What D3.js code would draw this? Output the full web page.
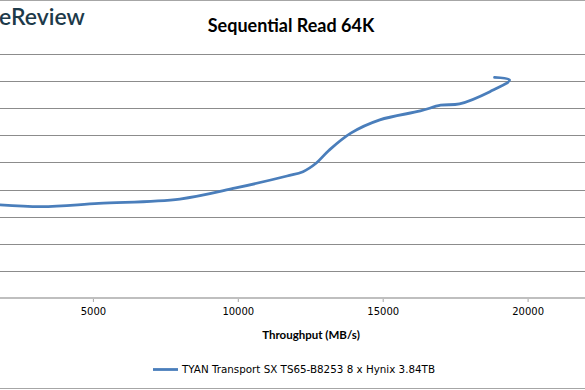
<!DOCTYPE html>
<html>
<head>
<meta charset="utf-8">
<script src="https://cdn.jsdelivr.net/npm/d3@7"></script>
<style>
  html, body { margin: 0; padding: 0; background: #fff; }
  svg { display: block; }
</style>
</head>
<body>
<svg id="chart" width="585" height="390"></svg>
<script>
// ---- data ----
const chartTitle = "Sequential Read 64K";
const xAxisTitle = "Throughput (MB/s)";
const seriesName = "TYAN Transport SX TS65-B8253 8 x Hynix 3.84TB";
const throughput = [800, 3200, 5200, 8000, 9930, 11700, 12250, 12700, 13150, 13900, 14900, 16300, 17000, 17650, 18700, 19380, 18860];
const latency    = [0.352, 0.337, 0.349, 0.365, 0.406, 0.450, 0.466, 0.497, 0.545, 0.608, 0.657, 0.690, 0.711, 0.716, 0.761, 0.804, 0.814];
const xTicks = [5000, 10000, 15000, 20000];
const yTicks = [0.1, 0.2, 0.3, 0.4, 0.5, 0.6, 0.7, 0.8, 0.9];

const W = 585, H = 390;
const svg = d3.select("#chart");

const x = d3.scaleLinear().domain([0, 25000]).range([-52, 672.5]);
const y = d3.scaleLinear().domain([0, 0.9]).range([298, 54]);

// outer border lines (top / bottom of the cropped picture)
svg.append("line").attr("x1", 0).attr("x2", W).attr("y1", 0.5).attr("y2", 0.5)
  .attr("stroke", "#a6a6a6").attr("stroke-width", 1);
svg.append("line").attr("x1", 0).attr("x2", W).attr("y1", 388.5).attr("y2", 388.5)
  .attr("stroke", "#a6a6a6").attr("stroke-width", 1);

// logo text (cropped)
svg.append("text").attr("x", -1).attr("y", 25)
  .attr("font-family", "Lato, 'Open Sans', sans-serif").attr("font-size", 23)
  .attr("font-weight", 600)
  .attr("fill", "#1d3a4a").text("eReview");

// title
svg.append("text").attr("x", 291).attr("y", 32).attr("text-anchor", "middle")
  .attr("font-family", "Lato, 'Open Sans', sans-serif").attr("font-weight", "bold")
  .attr("font-size", 18).attr("fill", "#000").text(chartTitle);

// gridlines
svg.append("g").selectAll("line").data(yTicks).join("line")
  .attr("x1", 0).attr("x2", W)
  .attr("y1", d => Math.round(y(d)) + 0.5).attr("y2", d => Math.round(y(d)) + 0.5)
  .attr("stroke", "#8c8c8c").attr("stroke-width", 1);

// x axis
const xAxis = d3.axisBottom(x).tickValues(xTicks).tickSize(4).tickPadding(6)
  .tickFormat(d3.format("d"));
const gx = svg.append("g").attr("transform", `translate(0,${y(0)})`).call(xAxis);
gx.select(".domain").remove();
gx.append("line").attr("x1", 0).attr("x2", W).attr("y1", 0).attr("y2", 0)
  .attr("stroke", "#bfbfbf").attr("stroke-width", 2);
gx.selectAll(".tick line").attr("stroke", "#a6a6a6");
gx.selectAll(".tick text").attr("font-family", "'DejaVu Sans', Verdana, sans-serif")
  .attr("font-size", 10).attr("fill", "#000");

// x axis title
svg.append("text").attr("x", 311).attr("y", 339).attr("text-anchor", "middle")
  .attr("font-family", "Lato, 'Open Sans', sans-serif").attr("font-weight", "bold")
  .attr("font-size", 11.5).attr("fill", "#000").text(xAxisTitle);

// series line
const pts = throughput.map((t, i) => [t, latency[i]]);
const line = d3.line().x(d => x(d[0])).y(d => y(d[1])).curve(d3.curveCatmullRom.alpha(0.5));
svg.append("path").datum(pts).attr("d", line)
  .attr("fill", "none").attr("stroke", "#4a7ebb").attr("stroke-width", 2.8)
  .attr("stroke-linecap", "round").attr("stroke-linejoin", "round");

// legend
svg.append("line").attr("x1", 153).attr("x2", 178).attr("y1", 369.5).attr("y2", 369.5)
  .attr("stroke", "#4a7ebb").attr("stroke-width", 2.8);
svg.append("text").attr("x", 182).attr("y", 373)
  .attr("font-family", "'DejaVu Sans', Verdana, sans-serif").attr("font-size", 10)
  .attr("textLength", 253).attr("lengthAdjust", "spacingAndGlyphs")
  .attr("fill", "#000").text(seriesName);
</script>
</body>
</html>
